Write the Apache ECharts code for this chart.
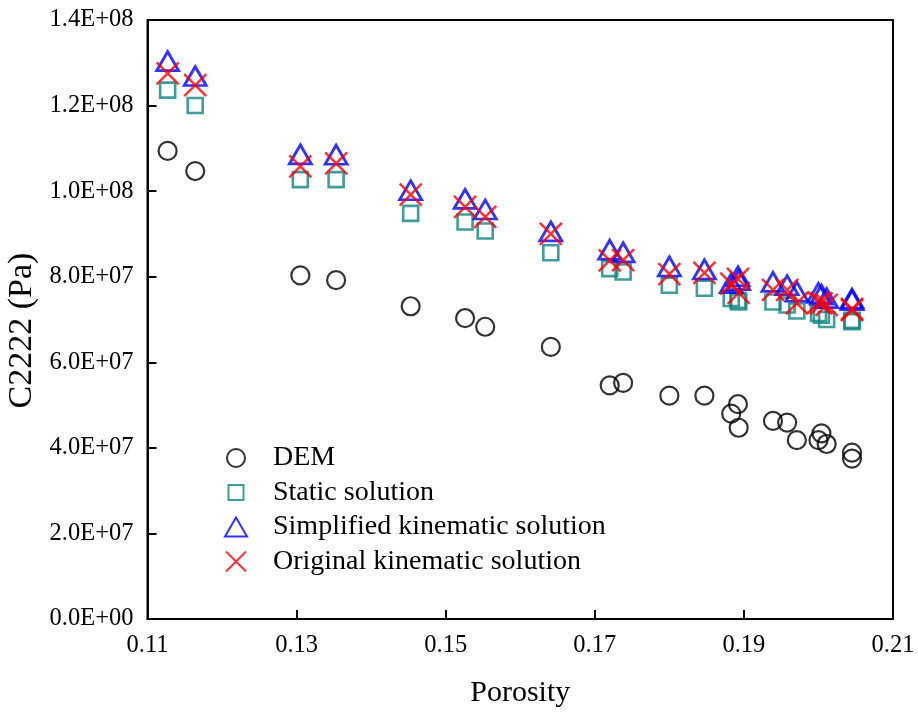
<!DOCTYPE html>
<html>
<head>
<meta charset="utf-8">
<script src="https://cdn.jsdelivr.net/npm/echarts@6/dist/echarts.min.js"></script>
<style>
  html, body { margin: 0; padding: 0; background: #fff; }
  #chart { width: 918px; height: 713px; }
</style>
</head>
<body>
<div id="chart"></div>
<script>
// Porosity of each sample
const porosity = [
  0.1127, 0.1164, 0.1305, 0.1353, 0.1453, 0.1526, 0.1553, 0.1641,
  0.1720, 0.1738, 0.1800, 0.1847, 0.1883, 0.1892, 0.1893, 0.1939,
  0.1958, 0.1971, 0.2000, 0.2004, 0.2011, 0.2045, 0.2045
];

// C2222 stiffness (Pa) for each method
const demValues = [
  10.94e7, 10.47e7, 8.03e7, 7.92e7, 7.31e7, 7.03e7, 6.83e7, 6.36e7,
  5.46e7, 5.52e7, 5.22e7, 5.22e7, 4.80e7, 5.02e7, 4.47e7, 4.63e7,
  4.59e7, 4.18e7, 4.18e7, 4.34e7, 4.09e7, 3.89e7, 3.75e7
];
const staticValues = [
  12.36e7, 12.00e7, 10.27e7, 10.27e7, 9.48e7, 9.28e7, 9.07e7, 8.56e7,
  8.19e7, 8.11e7, 7.80e7, 7.73e7, 7.49e7, 7.45e7, 7.41e7, 7.41e7,
  7.34e7, 7.20e7, 7.14e7, 7.10e7, 7.00e7, 6.95e7, 6.98e7
];
const simplifiedValues = [
  13.04e7, 12.69e7, 10.86e7, 10.85e7, 10.02e7, 9.82e7, 9.57e7, 9.06e7,
  8.63e7, 8.57e7, 8.24e7, 8.17e7, 7.85e7, 8.01e7, 7.92e7, 7.88e7,
  7.80e7, 7.65e7, 7.62e7, 7.58e7, 7.50e7, 7.49e7, 7.45e7
];
const originalValues = [
  12.75e7, 12.48e7, 10.58e7, 10.65e7, 9.92e7, 9.63e7, 9.40e7, 9.00e7,
  8.38e7, 8.39e7, 8.06e7, 8.09e7, 7.84e7, 7.95e7, 7.62e7, 7.69e7,
  7.69e7, 7.38e7, 7.40e7, 7.38e7, 7.34e7, 7.22e7, 7.25e7
];

const seriesNames = ['DEM', 'Static solution', 'Simplified kinematic solution', 'Original kinematic solution'];

const yTickLabels = ['0.0E+00', '2.0E+07', '4.0E+07', '6.0E+07', '8.0E+07', '1.0E+08', '1.2E+08', '1.4E+08'];
const xTickLabels = ['0.11', '0.13', '0.15', '0.17', '0.19', '0.21'];

const FONT = "'Liberation Serif', 'Times New Roman', serif";
const CROSS = 'path://M0,0L10,10M10,0L0,10';

// Legend icons drawn inside a shared 22x22 frame (the two bare moveTo
// points pin the frame) so each keeps its own relative size.
const FRAME = 'M0,0 M22,22 ';
const legendIcons = [
  'path://' + FRAME + 'M2,11 A9,9 0 1,1 20,11 A9,9 0 1,1 2,11 Z',
  'path://' + FRAME + 'M3.5,3.5 L18.5,3.5 L18.5,18.5 L3.5,18.5 Z',
  'path://' + FRAME + 'M11,1.5 L22,20.5 L0,20.5 Z',
  'path://' + FRAME + 'M1,1 L21,21 M21,1 L1,21'
];

function pairs(values) {
  return porosity.map((p, i) => [p, values[i]]);
}

const chart = echarts.init(document.getElementById('chart'), null, { renderer: 'canvas' });

chart.setOption({
  backgroundColor: '#fff',
  animation: false,
  textStyle: { fontFamily: FONT },
  grid: {
    left: 147.5, right: 25, top: 20, bottom: 94,
    containLabel: false,
    outerBoundsMode: 'none',
    show: true, borderColor: '#000', borderWidth: 2, backgroundColor: 'transparent'
  },
  xAxis: {
    type: 'value',
    min: 0.11, max: 0.21, interval: 0.02,
    name: 'Porosity',
    nameLocation: 'middle',
    nameGap: 59,
    nameTextStyle: { fontFamily: FONT, fontSize: 30, color: '#000' },
    axisLine: { show: true, onZero: false, lineStyle: { color: '#000', width: 2 } },
    axisTick: { show: true, inside: true, length: 9, lineStyle: { color: '#000', width: 2 } },
    axisLabel: {
      fontFamily: FONT, fontSize: 24.5, color: '#000', margin: 14,
      formatter: v => {
        const i = Math.round((v - 0.11) / 0.02);
        return xTickLabels[i] !== undefined ? xTickLabels[i] : '';
      }
    },
    splitLine: { show: false }
  },
  yAxis: {
    type: 'value',
    min: 0, max: 1.4e8, interval: 2e7,
    name: 'C2222 (Pa)',
    nameLocation: 'middle',
    nameGap: 103,
    nameTextStyle: { fontFamily: FONT, fontSize: 34, color: '#000', padding: [0, 22, 0, 0] },
    axisLine: { show: true, lineStyle: { color: '#000', width: 2 } },
    axisTick: { show: true, inside: true, length: 9, lineStyle: { color: '#000', width: 2 } },
    axisLabel: {
      fontFamily: FONT, fontSize: 24.5, color: '#000', margin: 14,
      formatter: v => yTickLabels[Math.round(v / 2e7)]
    },
    splitLine: { show: false }
  },
  legend: {
    orient: 'vertical',
    left: 224,
    top: 444,
    padding: 0,
    itemWidth: 22,
    itemHeight: 22,
    itemGap: 6.5,
    data: seriesNames.map((name, i) => ({ name: name, icon: legendIcons[i] })),
    textStyle: { fontFamily: FONT, fontSize: 28, color: '#000', lineHeight: 28, padding: [0, 0, 0, 21] }
  },
  series: [
    {
      name: seriesNames[0],
      type: 'scatter',
      symbol: 'circle',
      symbolSize: 18,
      data: pairs(demValues),
      itemStyle: { color: 'rgba(0,0,0,0)', borderColor: '#000', borderWidth: 2.2 }
    },
    {
      name: seriesNames[1],
      type: 'scatter',
      symbol: 'rect',
      symbolSize: 15,
      data: pairs(staticValues),
      itemStyle: { color: 'rgba(0,0,0,0)', borderColor: '#0f8585', borderWidth: 2.6 }
    },
    {
      name: seriesNames[2],
      type: 'scatter',
      symbol: 'triangle',
      symbolSize: [22, 19],
      data: pairs(simplifiedValues),
      itemStyle: { color: 'rgba(0,0,0,0)', borderColor: '#0000ff', borderWidth: 2.8 }
    },
    {
      name: seriesNames[3],
      type: 'scatter',
      symbol: CROSS,
      symbolSize: 22,
      data: pairs(originalValues),
      itemStyle: { color: 'rgba(0,0,0,0)', borderColor: '#ff0000', borderWidth: 2.5 }
    }
  ]
});
</script>
</body>
</html>
